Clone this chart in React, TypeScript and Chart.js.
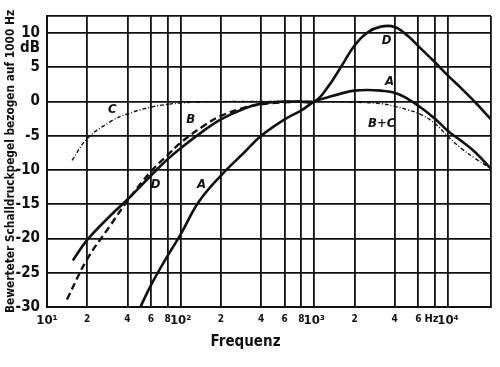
import React, { useEffect, useRef } from "react";
import { Chart, registerables } from "chart.js";

Chart.register(...registerables);

// ---- data ----
const aFreqs = [50, 60, 80, 100, 136, 200, 300, 400, 600, 800, 1000, 1250, 1600, 2000, 2500, 3150, 4000, 5000, 6300, 8000, 10000, 12500, 16000, 21000];
const aValues = [-30.0, -26.8, -22.5, -19.4, -14.7, -10.8, -7.4, -5.0, -2.6, -1.3, 0, 0.6, 1.2, 1.6, 1.7, 1.6, 1.3, 0.4, -0.9, -2.5, -4.3, -5.7, -7.4, -9.8];

const bFreqs = [14.1, 20, 30, 40, 60, 80, 100, 150, 200, 300, 400, 600, 1000];
const bValues = [-28.9, -23.0, -18.0, -14.5, -10.2, -7.8, -6.0, -3.5, -2.1, -0.9, -0.4, -0.1, 0];

const cFreqs = [15.4, 20, 30, 40, 60, 80, 100, 150, 200, 1000, 2000, 3150, 4000, 5000, 6300, 8000, 10000, 12500, 16000, 21000];
const cValues = [-8.6, -5.4, -2.9, -1.8, -0.8, -0.4, -0.2, -0.05, 0, 0, -0.1, -0.3, -0.7, -1.2, -1.9, -3.2, -5.1, -6.8, -8.3, -9.8];

const dFreqs = [15.6, 20, 30, 40, 60, 80, 100, 150, 200, 300, 400, 600, 800, 1000, 1250, 1600, 2000, 2500, 3150, 4000, 5000, 6300, 8000, 10000, 12500, 16000, 21000];
const dValues = [-23.2, -20.2, -16.6, -14.3, -10.8, -8.4, -6.8, -4.2, -2.6, -1.0, -0.3, 0, 0, 0, 2.0, 5.2, 8.2, 10.1, 10.95, 10.9, 9.6, 7.7, 5.75, 3.8, 2.0, -0.1, -2.6];

const xTickValues = [10, 20, 40, 60, 80, 100, 200, 400, 600, 800, 1000, 2000, 4000, 6000, 8000, 10000, 21000];
const xTickLabels = ["10¹", "2", "4", "6", "8", "10²", "2", "4", "6", "8", "10³", "2", "4", "6", "Hz  ", "10⁴", ""];

const yTickValues = [-30, -25, -20, -15, -10, -5, 0, 5, 7.8, 10, 12.5];
const yTickLabels = ["-30", "-25", "-20", "-15", "-10", "-5", "0", "5", "dB", "10", ""];

const curveLabelTexts = ["C", "B", "D", "A", "D", "A", "B+C"];
const curveLabelFreqs = [30.8, 119, 65, 143, 3480, 3660, 3190];
const curveLabelDbs = [-1.15, -2.6, -12.2, -12.1, 8.9, 2.9, -3.2];

const yTitle = "Bewerteter Schalldruckpegel bezogen auf 1000 Hz";
const xTitle = "Frequenz";

const FONT = "'DejaVu Sans Condensed', 'Liberation Sans Narrow', sans-serif";

function pts(fs: number[], vs: number[]) {
  return fs.map((f, i) => ({ x: f, y: vs[i] }));
}

const curveLabelPlugin = {
  id: "curveLabels",
  afterDatasetsDraw(chart: any) {
    const { ctx, scales } = chart;
    ctx.save();
    ctx.fillStyle = "#111";
    ctx.font = `italic bold 13px ${FONT}`;
    ctx.textAlign = "center";
    ctx.textBaseline = "middle";
    curveLabelTexts.forEach((t, i) => {
      const x = scales.x.getPixelForValue(curveLabelFreqs[i]);
      const y = scales.y.getPixelForValue(curveLabelDbs[i]);
      ctx.fillText(t, x, y);
    });
    ctx.restore();
  },
};

export default function App() {
  const ref = useRef<HTMLCanvasElement | null>(null);
  useEffect(() => {
    if (!ref.current) return;
    const line = (d: any[], w: number, dash: number[]) => ({
      data: d,
      borderColor: "#111",
      borderWidth: w,
      borderDash: dash,
      pointRadius: 0,
      fill: false,
      tension: 0.4,
    });
    const chart = new Chart(ref.current, {
      type: "line",
      data: {
        datasets: [
          { label: "A", ...line(pts(aFreqs, aValues), 2.6, []) },
          { label: "B", ...line(pts(bFreqs, bValues), 2.4, [7, 4]) },
          { label: "C", ...line(pts(cFreqs, cValues), 1.4, [4, 2, 1, 2]) },
          { label: "D", ...line(pts(dFreqs, dValues), 2.6, []) },
        ],
      },
      options: {
        animation: false,
        responsive: false,
        devicePixelRatio: 1,
        layout: { padding: { top: 12, right: 9, left: 0, bottom: 16 } },
        plugins: {
          legend: { display: false },
          tooltip: { enabled: false },
          title: {
            display: true,
            position: "bottom",
            text: xTitle,
            color: "#111",
            font: { family: FONT, weight: "bold", size: 15 },
            padding: { top: 0, bottom: 0 },
          },
        },
        scales: {
          x: {
            type: "logarithmic",
            min: 10,
            max: 21000,
            afterBuildTicks: (axis: any) => {
              axis.ticks = xTickValues.map((v) => ({ value: v }));
            },
            afterFit: (axis: any) => {
              axis.height = 26;
            },
            ticks: {
              autoSkip: false,
              maxRotation: 0,
              padding: 6,
              color: "#111",
              callback: (_v: any, i: number) => xTickLabels[i],
              font: (c: any) => {
                const l = xTickLabels[c.index] || "";
                const big = l.startsWith("10");
                return { family: FONT, weight: "bold", size: big ? 13 : l.startsWith("Hz") ? 11 : 10 };
              },
            },
            grid: { color: "#111", lineWidth: 1.8, drawTicks: false },
            border: { color: "#111", width: 2 },
          },
          y: {
            type: "linear",
            min: -30,
            max: 12.5,
            afterBuildTicks: (axis: any) => {
              axis.ticks = yTickValues.map((v) => ({ value: v }));
            },
            afterFit: (axis: any) => {
              axis.width = 47;
            },
            ticks: {
              padding: 7,
              color: "#111",
              callback: (_v: any, i: number) => yTickLabels[i],
              font: { family: FONT, weight: "bold", size: 15 },
            },
            grid: {
              color: (c: any) => (c.tick && c.tick.value === 7.8 ? "rgba(0,0,0,0)" : "#111"),
              lineWidth: 1.8,
              drawTicks: false,
            },
            border: { color: "#111", width: 2 },
            title: {
              display: true,
              text: yTitle,
              color: "#111",
              font: { family: FONT, weight: "bold", size: 11.8 },
              padding: { top: 4, bottom: 0 },
            },
          },
        },
      },
      plugins: [curveLabelPlugin],
    });
    return () => chart.destroy();
  }, []);
  return (
    <div style={{ position: "absolute", left: 0, top: 0, width: 500, height: 367, background: "#fff" }}>
      <canvas ref={ref} width={500} height={367} style={{ display: "block" }} />
    </div>
  );
}
